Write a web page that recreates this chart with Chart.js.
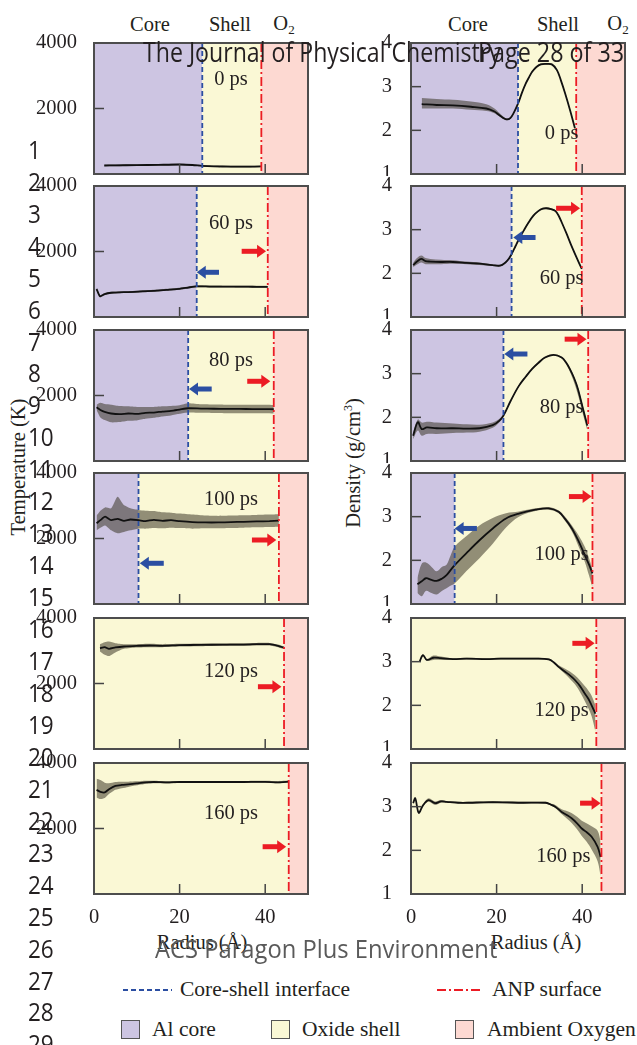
<!DOCTYPE html>
<html>
<head>
<meta charset="utf-8">
<script src="https://cdn.jsdelivr.net/npm/chart.js@4"></script>
<style>
body { margin: 0; background: #fff; width: 637px; height: 1045px; overflow: hidden; position: relative; font-family: "Liberation Serif", serif; color: #231f20; }
canvas { position: absolute; }
.t { position: absolute; white-space: nowrap; line-height: 1; font-size: 20.5px; transform: translate(-50%, -50%); }
.ov { position: absolute; white-space: nowrap; line-height: 1; font-family: "Open Sans", sans-serif; color: #231f20; z-index: 5; transform-origin: 0 0; }
.lg { position: absolute; white-space: nowrap; line-height: 1; font-size: 21.5px; transform: translateY(-50%); }
.box { position: absolute; width: 19px; height: 19px; border: 1px solid #555; box-sizing: border-box; }
sub { font-size: 13px; vertical-align: -4px; }
</style>
</head>
<body>

<div class="t" style="left:150px;top:24px">Core</div>
<div class="t" style="left:230px;top:24px">Shell</div>
<div class="t" style="left:284px;top:24px">O<sub>2</sub></div>
<div class="t" style="left:468px;top:24px">Core</div>
<div class="t" style="left:558px;top:24px">Shell</div>
<div class="t" style="left:618px;top:24px">O<sub>2</sub></div>

<div class="t" style="left:18px;top:467px;transform:translate(-50%,-50%) rotate(-90deg)">Temperature (K)</div>
<div class="t" style="left:353px;top:463px;transform:translate(-50%,-50%) rotate(-90deg)">Density (g/cm<sup style="font-size:12px">3</sup>)</div>
<div class="t" style="left:202px;top:942px">Radius (Å)</div>
<div class="t" style="left:536px;top:942px">Radius (Å)</div>

<svg style="position:absolute;left:120px;top:984px" width="54" height="12"><line x1="3" y1="6" x2="52" y2="6" stroke="#2b4ea2" stroke-width="1.8" stroke-dasharray="5 3"/></svg>
<div class="lg" style="left:180px;top:990px">Core-shell interface</div>
<svg style="position:absolute;left:434px;top:984px" width="50" height="12"><line x1="3" y1="6" x2="48" y2="6" stroke="#ec1c24" stroke-width="1.8" stroke-dasharray="9 3 2 3"/></svg>
<div class="lg" style="left:492px;top:990px">ANP surface</div>
<div class="box" style="left:121px;top:1020px;background:#cdc5e2"></div>
<div class="lg" style="left:152px;top:1030px">Al core</div>
<div class="box" style="left:271px;top:1020px;background:#faf8d5"></div>
<div class="lg" style="left:302px;top:1030px">Oxide shell</div>
<div class="box" style="left:455px;top:1020px;background:#fdd9d2"></div>
<div class="lg" style="left:487px;top:1030px">Ambient Oxygen</div>

<script>
// radius (Å), temperature (K) with spread band, one set per snapshot
const rT0 = [2.4, 5, 10, 15, 20, 23, 25.3, 28, 32, 36, 39];
const T0 = [260, 265, 270, 280, 290, 275, 250, 235, 225, 225, 230];
const T0lo = [235, 240, 245, 255, 265, 250, 225, 210, 200, 200, 205];
const T0hi = [285, 290, 295, 305, 315, 300, 275, 260, 250, 250, 255];

const rT60 = [0.6, 1.4, 2.5, 4, 6, 8, 11, 14, 17, 20, 22, 24, 27, 30, 33, 36, 38, 40.6];
const T60 = [855, 632, 700, 740, 754, 760, 780, 800, 830, 860, 900, 937, 930, 928, 925, 925, 922, 920];
const T60lo = [815, 600, 670, 710, 725, 730, 750, 770, 800, 830, 870, 905, 900, 898, 895, 895, 892, 890];
const T60hi = [895, 665, 730, 770, 785, 790, 810, 830, 860, 890, 930, 970, 960, 958, 955, 955, 952, 950];

const rT80 = [0.6, 1.5, 2.5, 4, 6, 8, 10, 12, 14, 16, 18, 20, 22, 25, 28, 31, 34, 37, 40, 42];
const T80 = [1640, 1560, 1500, 1450, 1430, 1450, 1440, 1470, 1480, 1510, 1530, 1570, 1610, 1600, 1595, 1590, 1590, 1585, 1585, 1580];
const T80lo = [1560, 1330, 1250, 1180, 1190, 1230, 1240, 1290, 1320, 1360, 1390, 1440, 1480, 1470, 1465, 1460, 1460, 1455, 1455, 1450];
const T80hi = [1720, 1780, 1740, 1720, 1680, 1670, 1650, 1650, 1650, 1670, 1680, 1700, 1760, 1730, 1725, 1720, 1720, 1715, 1715, 1710];

const rT100 = [0.6, 1.5, 2.6, 4, 5.5, 7, 8.5, 10.4, 12, 14, 16, 18, 20, 23, 26, 29, 32, 35, 38, 41, 43.2];
const T100 = [2464, 2560, 2666, 2560, 2600, 2540, 2580, 2560, 2530, 2570, 2540, 2560, 2530, 2500, 2490, 2490, 2500, 2510, 2520, 2530, 2545];
const T100lo = [2250, 2330, 2400, 2250, 2160, 2200, 2250, 2300, 2300, 2320, 2310, 2330, 2320, 2300, 2310, 2310, 2320, 2330, 2340, 2350, 2360];
const T100hi = [2700, 2850, 2950, 2920, 3277, 3020, 2920, 2870, 2850, 2840, 2800, 2790, 2760, 2730, 2700, 2690, 2700, 2710, 2720, 2730, 2740];

const rT120 = [1.4, 2.5, 3.5, 5, 7, 10, 13, 16, 20, 25, 30, 35, 38, 41, 43, 44.4];
const T120 = [3075, 3110, 3060, 3100, 3130, 3150, 3160, 3150, 3170, 3180, 3185, 3190, 3200, 3200, 3150, 3093];
const T120lo = [2980, 2880, 2840, 2950, 3060, 3100, 3110, 3110, 3130, 3140, 3145, 3150, 3160, 3160, 3110, 3050];
const T120hi = [3200, 3260, 3280, 3230, 3200, 3200, 3210, 3200, 3210, 3220, 3225, 3230, 3240, 3240, 3190, 3130];

const rT160 = [0.6, 1.5, 2.5, 3.5, 5, 6.5, 8, 10, 12, 14, 17, 20, 25, 30, 35, 40, 43, 45.5];
const T160 = [3180, 3120, 3100, 3200, 3300, 3330, 3350, 3380, 3410, 3420, 3410, 3420, 3420, 3420, 3420, 3425, 3410, 3430];
const T160lo = [2950, 2900, 2930, 3050, 3180, 3230, 3270, 3320, 3360, 3380, 3375, 3390, 3390, 3390, 3390, 3395, 3380, 3395];
const T160hi = [3520, 3480, 3400, 3380, 3420, 3430, 3430, 3440, 3460, 3460, 3445, 3450, 3450, 3450, 3450, 3455, 3445, 3465];

// radius (Å), density (g/cm3) with spread band
const rD0 = [2.5, 6, 9.8, 14, 17.6, 19.5, 20.6, 21.6, 22.4, 23.2, 24, 25, 26, 26.8, 27.6, 28.3, 29.3, 30.3, 31.6, 32.9, 34.1, 35, 36, 37.2, 38.3];
const D0 = [2.60, 2.58, 2.57, 2.54, 2.50, 2.43, 2.35, 2.28, 2.25, 2.28, 2.40, 2.61, 2.88, 3.07, 3.22, 3.34, 3.45, 3.51, 3.52, 3.51, 3.38, 3.15, 2.85, 2.45, 2.05];
const D0lo = [2.50, 2.50, 2.50, 2.47, 2.44, 2.39, 2.32, 2.26, 2.23, 2.26, 2.38, 2.59, 2.86, 3.05, 3.20, 3.32, 3.43, 3.49, 3.50, 3.49, 3.36, 3.13, 2.83, 2.43, 2.03];
const D0hi = [2.74, 2.72, 2.70, 2.66, 2.60, 2.50, 2.40, 2.31, 2.27, 2.30, 2.42, 2.63, 2.90, 3.09, 3.24, 3.36, 3.47, 3.53, 3.54, 3.53, 3.40, 3.17, 2.87, 2.47, 2.07];

const rD60 = [0.5, 1.4, 2.4, 3.4, 4.5, 7, 9.8, 13, 16, 19, 21, 22.5, 23.5, 24.4, 25.2, 26.4, 27.5, 28.6, 29.8, 30.8, 31.7, 32.7, 33.7, 34.5, 35.2, 36.3, 37.5, 38.7, 39.9];
const D60 = [2.19, 2.27, 2.33, 2.28, 2.27, 2.26, 2.26, 2.24, 2.22, 2.19, 2.18, 2.29, 2.44, 2.62, 2.78, 2.99, 3.17, 3.32, 3.43, 3.48, 3.49, 3.47, 3.43, 3.32, 3.17, 2.92, 2.63, 2.36, 2.10];
const D60lo = [2.14, 2.20, 2.25, 2.21, 2.21, 2.21, 2.22, 2.21, 2.19, 2.17, 2.16, 2.27, 2.42, 2.60, 2.76, 2.97, 3.15, 3.30, 3.41, 3.46, 3.47, 3.45, 3.41, 3.30, 3.15, 2.90, 2.61, 2.34, 2.08];
const D60hi = [2.24, 2.35, 2.41, 2.35, 2.33, 2.31, 2.30, 2.27, 2.25, 2.21, 2.20, 2.31, 2.46, 2.64, 2.80, 3.01, 3.19, 3.34, 3.45, 3.50, 3.51, 3.49, 3.45, 3.34, 3.19, 2.94, 2.65, 2.38, 2.12];

const rD80 = [0.5, 1.6, 2.5, 3.7, 6, 9.8, 13, 16, 19.1, 20.6, 21.6, 23.3, 25.2, 26.8, 28.3, 29.8, 31.3, 33.3, 35.2, 36.2, 37.1, 38.1, 39, 40.2, 41.2];
const D80 = [1.58, 1.89, 1.73, 1.77, 1.75, 1.75, 1.74, 1.75, 1.82, 1.92, 2.04, 2.38, 2.72, 2.93, 3.11, 3.25, 3.37, 3.43, 3.37, 3.26, 3.11, 2.90, 2.65, 2.19, 1.81];
const D80lo = [1.50, 1.70, 1.58, 1.62, 1.62, 1.64, 1.65, 1.67, 1.76, 1.88, 2.01, 2.36, 2.70, 2.91, 3.09, 3.23, 3.35, 3.41, 3.35, 3.22, 3.05, 2.80, 2.52, 2.06, 1.70];
const D80hi = [1.66, 1.95, 1.88, 1.90, 1.88, 1.86, 1.84, 1.83, 1.88, 1.96, 2.07, 2.40, 2.74, 2.95, 3.13, 3.27, 3.39, 3.45, 3.39, 3.28, 3.14, 2.93, 2.69, 2.24, 1.86];

const rD100 = [1.5, 2.5, 3.5, 4.8, 6, 7.2, 8.3, 9.2, 10.2, 12.9, 16, 19.1, 22.2, 25.2, 29.1, 32.2, 34.5, 36, 37.6, 39.1, 40.6, 41.6, 42.4];
const D100 = [1.45, 1.52, 1.59, 1.55, 1.53, 1.58, 1.66, 1.77, 1.89, 2.16, 2.46, 2.73, 2.96, 3.07, 3.16, 3.19, 3.11, 2.95, 2.73, 2.45, 2.12, 1.90, 1.70];
const D100lo = [1.25, 1.18, 1.30, 1.25, 1.22, 1.30, 1.36, 1.42, 1.47, 1.75, 2.05, 2.38, 2.75, 3.00, 3.13, 3.16, 3.08, 2.90, 2.66, 2.33, 1.97, 1.65, 1.38];
const D100hi = [1.60, 1.92, 1.95, 1.85, 1.75, 1.85, 1.90, 2.10, 2.31, 2.55, 2.80, 2.97, 3.08, 3.12, 3.19, 3.22, 3.14, 3.00, 2.80, 2.58, 2.31, 2.05, 1.80];

const rD120 = [2.0, 2.8, 3.7, 5.2, 7, 9.8, 13, 17.6, 21, 25.2, 29, 32.2, 33.4, 34.5, 36, 37.2, 38.3, 39.5, 40.6, 41.5, 42.2, 43.1];
const D120 = [3.00, 3.15, 3.04, 3.09, 3.08, 3.06, 3.07, 3.06, 3.07, 3.07, 3.07, 3.05, 2.98, 2.88, 2.77, 2.68, 2.58, 2.44, 2.27, 2.14, 2.00, 1.81];
const D120lo = [2.98, 3.13, 3.02, 3.04, 3.04, 3.04, 3.05, 3.04, 3.05, 3.05, 3.05, 3.03, 2.96, 2.85, 2.72, 2.60, 2.48, 2.30, 2.10, 1.92, 1.75, 1.40];
const D120hi = [3.02, 3.17, 3.06, 3.14, 3.12, 3.08, 3.09, 3.08, 3.09, 3.09, 3.09, 3.07, 3.00, 2.92, 2.84, 2.77, 2.69, 2.57, 2.44, 2.33, 2.22, 2.00];

const rD160 = [0.5, 1.0, 1.8, 2.8, 4.1, 5.6, 7, 8.3, 11, 13.7, 17, 21.4, 26, 31.4, 32.6, 33.7, 35.2, 36.4, 37.6, 38.8, 39.9, 41, 42.2, 43.6, 44.3];
const D160 = [3.08, 3.19, 2.86, 3.03, 3.15, 3.08, 3.12, 3.11, 3.09, 3.09, 3.10, 3.10, 3.09, 3.09, 3.05, 3.00, 2.88, 2.81, 2.73, 2.62, 2.50, 2.42, 2.31, 2.08, 1.85];
const D160lo = [3.06, 3.17, 2.84, 3.01, 3.11, 3.04, 3.09, 3.09, 3.07, 3.07, 3.08, 3.08, 3.07, 3.07, 3.03, 2.97, 2.83, 2.73, 2.62, 2.48, 2.33, 2.20, 2.02, 1.75, 1.40];
const D160hi = [3.10, 3.21, 2.88, 3.05, 3.19, 3.12, 3.15, 3.13, 3.11, 3.11, 3.12, 3.12, 3.11, 3.11, 3.07, 3.04, 2.94, 2.90, 2.85, 2.77, 2.68, 2.62, 2.55, 2.45, 2.20];

const times = ['0 ps', '60 ps', '80 ps', '100 ps', '120 ps', '160 ps'];
// core-shell interface and ANP surface radius (Å)
const coreT = [25.3, 24.0, 22.0, 10.4, null, null];
const surfT = [39.1, 40.6, 42.0, 43.2, 44.4, 45.5];
const coreD = [25.0, 23.5, 21.6, 10.2, null, null];
const surfD = [38.6, 39.9, 41.4, 42.4, 43.3, 44.5];
// arrows: [from r, to r, value]
const blueArrT = [null, [29.2, 24.0, 1365], [27.5, 22.2, 2198], [16.3, 10.7, 1243], null, null];
const redArrT = [null, [34.5, 40.2, 2006], [35.8, 41.2, 2434], [36.9, 42.6, 1954], [38.3, 43.8, 1902], [39.4, 44.9, 1444]];
const blueArrD = [null, [29.1, 23.9, 2.82], [27.2, 21.8, 3.45], [15.4, 10.2, 2.73], null, null];
const redArrD = [null, [33.9, 39.5, 3.49], [35.9, 41.0, 3.79], [36.9, 42.2, 3.46], [37.7, 42.9, 3.42], [39.5, 44.3, 3.08]];
// where the time label sits: [r, value]
const labelT = [[32, 2870], [32, 2840], [32, 3063], [32, 3176], [32, 2360], [32, 2463]];
const labelD = [[35.2, 1.93], [35.2, 1.87], [35.2, 2.23], [35.2, 2.12], [35.2, 1.89], [35.6, 1.85]];

const radiusTicks = [0, 20, 40];
const tempTicks = [2000, 4000];
const densTicks = [1, 2, 3, 4];

const tempSets = [
    [rT0, T0, T0lo, T0hi], [rT60, T60, T60lo, T60hi], [rT80, T80, T80lo, T80hi],
    [rT100, T100, T100lo, T100hi], [rT120, T120, T120lo, T120hi], [rT160, T160, T160lo, T160hi]
];
const densSets = [
    [rD0, D0, D0lo, D0hi], [rD60, D60, D60lo, D60hi], [rD80, D80, D80lo, D80hi],
    [rD100, D100, D100lo, D100hi], [rD120, D120, D120lo, D120hi], [rD160, D160, D160lo, D160hi]
];

const panelTops = [43, 186, 330, 473, 618, 763];
const coreColor = '#cdc5e2';
const shellColor = '#faf8d5';
const oxyColor = '#fdd9d2';
const bandColor = 'rgba(60,55,40,0.55)';
const serif = { family: 'Liberation Serif', size: 20.5 };

function pts(xs, ys) {
    return xs.map((x, i) => ({ x: x, y: ys[i] }));
}

function noPad(s) {
    s.paddingTop = 0;
    s.paddingBottom = 0;
    s.paddingLeft = 0;
    s.paddingRight = 0;
}

function arrow(ctx, x0, x1, y, color) {
    const dir = Math.sign(x1 - x0);
    ctx.strokeStyle = color;
    ctx.fillStyle = color;
    ctx.lineWidth = 5;
    ctx.setLineDash([]);
    ctx.beginPath();
    ctx.moveTo(x0, y);
    ctx.lineTo(x1 - dir * 7, y);
    ctx.stroke();
    ctx.beginPath();
    ctx.moveTo(x1, y);
    ctx.lineTo(x1 - dir * 9, y - 6.5);
    ctx.lineTo(x1 - dir * 9, y + 6.5);
    ctx.closePath();
    ctx.fill();
}

function decor(p) {
    return {
        id: 'decor',
        beforeDatasetsDraw(chart) {
            const { ctx, chartArea: a, scales: { x } } = chart;
            const xc = p.core == null ? a.left : x.getPixelForValue(p.core);
            const xs = x.getPixelForValue(p.surf);
            ctx.save();
            ctx.fillStyle = coreColor;
            ctx.fillRect(a.left, a.top, xc - a.left, a.height);
            ctx.fillStyle = shellColor;
            ctx.fillRect(xc, a.top, xs - xc, a.height);
            ctx.fillStyle = oxyColor;
            ctx.fillRect(xs, a.top, a.right - xs, a.height);
            ctx.restore();
        },
        afterDatasetsDraw(chart) {
            const { ctx, chartArea: a, scales: { x, y } } = chart;
            ctx.save();
            ctx.lineWidth = 1.8;
            if (p.core != null) {
                const xc = x.getPixelForValue(p.core);
                ctx.strokeStyle = '#2b4ea2';
                ctx.setLineDash([5, 3]);
                ctx.beginPath(); ctx.moveTo(xc, a.top); ctx.lineTo(xc, a.bottom); ctx.stroke();
            }
            const xs = x.getPixelForValue(p.surf);
            ctx.strokeStyle = '#ec1c24';
            ctx.setLineDash([9, 3, 2, 3]);
            ctx.beginPath(); ctx.moveTo(xs, a.top); ctx.lineTo(xs, a.bottom); ctx.stroke();

            if (p.blue) arrow(ctx, x.getPixelForValue(p.blue[0]), x.getPixelForValue(p.blue[1]), y.getPixelForValue(p.blue[2]), '#2b4ea2');
            if (p.red) arrow(ctx, x.getPixelForValue(p.red[0]), x.getPixelForValue(p.red[1]), y.getPixelForValue(p.red[2]), '#ec1c24');

            ctx.fillStyle = '#231f20';
            ctx.font = '20.5px "Liberation Serif"';
            ctx.textAlign = 'center';
            ctx.textBaseline = 'middle';
            ctx.fillText(p.label, x.getPixelForValue(p.labelPos[0]), y.getPixelForValue(p.labelPos[1]));

            // inward ticks
            ctx.setLineDash([]);
            ctx.strokeStyle = '#444';
            ctx.lineWidth = 1.5;
            [20, 40].forEach(v => {
                const px = x.getPixelForValue(v);
                ctx.beginPath(); ctx.moveTo(px, a.bottom); ctx.lineTo(px, a.bottom - 10); ctx.stroke();
            });
            p.innerY.forEach(v => {
                const py = y.getPixelForValue(v);
                ctx.beginPath(); ctx.moveTo(a.left, py); ctx.lineTo(a.left + 10, py); ctx.stroke();
            });
            ctx.strokeStyle = '#4d4d4d';
            ctx.lineWidth = 2;
            ctx.strokeRect(a.left, a.top, a.width, a.height);
            ctx.restore();
        }
    };
}

function makePanel(col, row) {
    const isT = col === 0;
    const set = isT ? tempSets[row] : densSets[row];
    const bottom = row === 5;
    const xH = bottom ? 60 : 2;
    const padTop = 14;
    const canvas = document.createElement('canvas');
    const left = isT ? 0 : 320;
    const width = isT ? 314 : 631;
    canvas.width = width - left;
    canvas.height = padTop + 131 + xH;
    canvas.style.left = left + 'px';
    canvas.style.top = (panelTops[row] - padTop) + 'px';
    document.body.appendChild(canvas);

    const tension = isT ? 0.2 : 0.35;
    const p = {
        core: isT ? coreT[row] : coreD[row],
        surf: isT ? surfT[row] : surfD[row],
        blue: isT ? blueArrT[row] : blueArrD[row],
        red: isT ? redArrT[row] : redArrD[row],
        label: times[row],
        labelPos: isT ? labelT[row] : labelD[row],
        innerY: isT ? [2000] : [2, 3]
    };
    const yTicks = isT ? tempTicks : densTicks;

    new Chart(canvas, {
        type: 'line',
        data: {
            datasets: [
                { data: pts(set[0], set[1]), borderColor: '#111', borderWidth: 1.8, pointRadius: 0, tension: tension, fill: false },
                { data: pts(set[0], set[3]), borderWidth: 0, borderColor: 'rgba(0,0,0,0)', pointRadius: 0, tension: tension, fill: '+1', backgroundColor: bandColor },
                { data: pts(set[0], set[2]), borderWidth: 0, borderColor: 'rgba(0,0,0,0)', pointRadius: 0, tension: tension, fill: false }
            ]
        },
        options: {
            responsive: false,
            animation: false,
            layout: { padding: { top: padTop, right: 6, left: 0, bottom: 0 } },
            plugins: { legend: { display: false }, tooltip: { enabled: false } },
            scales: {
                x: {
                    type: 'linear', min: 0, max: 50,
                    afterBuildTicks: s => { s.ticks = radiusTicks.map(v => ({ value: v })); },
                    afterFit: s => { s.height = xH; noPad(s); },
                    grid: { display: false, drawTicks: false },
                    border: { display: false },
                    ticks: { display: bottom, padding: 11, font: serif, color: '#231f20', maxRotation: 0, callback: v => String(v) }
                },
                y: {
                    min: isT ? 0 : 1, max: isT ? 4000 : 4,
                    afterBuildTicks: s => { s.ticks = yTicks.map(v => ({ value: v })); },
                    afterFit: s => { s.width = isT ? 94 : 91; noPad(s); },
                    grid: { display: false, drawTicks: false },
                    border: { display: false },
                    ticks: { padding: isT ? 17 : 19, font: serif, color: '#231f20', callback: v => String(v) }
                }
            }
        },
        plugins: [decor(p)]
    });
}

for (let row = 0; row < 6; row++) {
    makePanel(0, row);
    makePanel(1, row);
}

// page furniture of the manuscript
function overlay(text, x, y, size, color, targetW) {
    const d = document.createElement('div');
    d.className = 'ov';
    d.textContent = text;
    d.style.fontSize = size + 'px';
    d.style.color = color;
    d.style.left = x + 'px';
    d.style.top = (y - size * 0.888) + 'px';
    document.body.appendChild(d);
    if (targetW) d.style.transform = 'scaleX(' + (targetW / d.offsetWidth) + ')';
    return d;
}
overlay('The Journal of Physical Chemistry', 143, 62, 27, '#231f20', 358);
overlay('Page 28 of 33', 478, 62, 27, '#231f20', 146);
for (let n = 1; n <= 29; n++) {
    const d = overlay(String(n), 28, 150 + (n - 1) * 31.95 + 9, 25, '#231f20', null);
    d.style.transform = 'scaleX(0.9)';
}
overlay('ACS Paragon Plus Environment', 155, 958, 25, '#5a5a5a', 342);
</script>
</body>
</html>
